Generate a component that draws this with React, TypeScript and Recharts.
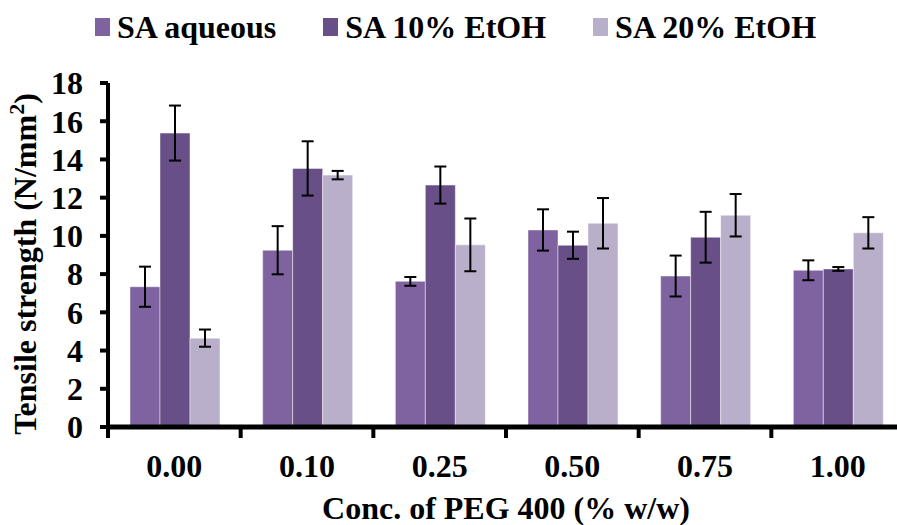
import { BarChart, Bar, XAxis, YAxis, Legend, ErrorBar } from "recharts";

const categories = ["0.00", "0.10", "0.25", "0.50", "0.75", "1.00"];
const aqueous = [7.34, 9.25, 7.62, 10.31, 7.9, 8.2];
const aqueousErr = [1.05, 1.26, 0.23, 1.08, 1.07, 0.52];
const etoh10 = [15.38, 13.53, 12.66, 9.51, 9.93, 8.27];
const etoh10Err = [1.44, 1.42, 0.97, 0.71, 1.33, 0.1];
const etoh20 = [4.65, 13.18, 9.53, 10.66, 11.08, 10.16];
const etoh20Err = [0.45, 0.22, 1.38, 1.32, 1.11, 0.82];
const yTicks = [0, 2, 4, 6, 8, 10, 12, 14, 16, 18];

const series = [
  { key: "aq", err: "aqErr", name: "SA aqueous", color: "#7F63A1" },
  { key: "e10", err: "e10Err", name: "SA 10% EtOH", color: "#684F88" },
  { key: "e20", err: "e20Err", name: "SA 20% EtOH", color: "#BAAFCA" },
];

const data = categories.map((c, i) => ({
  conc: c,
  aq: aqueous[i],
  aqErr: aqueousErr[i],
  e10: etoh10[i],
  e10Err: etoh10Err[i],
  e20: etoh20[i],
  e20Err: etoh20Err[i],
}));

const FONT = "'Liberation Serif', 'Times New Roman', serif";
const FS = 32;
const CHART_W = 904;
const CHART_H = 525;
const LEFT = 108;
const BAND = (CHART_W - LEFT) / categories.length;

const XTick = (props: any) => {
  const { x, y, payload } = props;
  const left = x - BAND / 2;
  return (
    <g>
      <line x1={left} y1={y} x2={left} y2={y + 11} stroke="#000" strokeWidth={4} />
      <text
        x={x}
        y={y + 50}
        textAnchor="middle"
        fontFamily={FONT}
        fontWeight={700}
        fontSize={FS}
        fill="#000"
      >
        {payload.value}
      </text>
    </g>
  );
};

const YTitle = (props: any) => {
  const vb = props.viewBox || {};
  const cx = 36;
  const cy = (vb.y ?? 83) + (vb.height ?? 344) / 2 + 9;
  return (
    <text
      x={cx}
      y={cy}
      transform={`rotate(-90, ${cx}, ${cy})`}
      textAnchor="middle"
      fontFamily={FONT}
      fontWeight={700}
      fontSize={FS}
      fill="#000"
    >
      Tensile strength (N/mm
      <tspan dy={-12} fontSize={22}>
        2
      </tspan>
      <tspan dy={12}>)</tspan>
    </text>
  );
};

const LegendContent = () => (
  <div
    style={{
      display: "flex",
      alignItems: "center",
      paddingLeft: 95,
      gap: 47,
      fontFamily: FONT,
      fontWeight: 700,
      fontSize: FS,
      lineHeight: "36px",
      color: "#000",
    }}
  >
    {series.map((s) => (
      <div key={s.key} style={{ display: "flex", alignItems: "center" }}>
        <span
          style={{
            display: "inline-block",
            width: 15,
            height: 18,
            background: s.color,
            marginRight: 7,
          }}
        />
        <span>{s.name}</span>
      </div>
    ))}
  </div>
);

export default function App() {
  return (
    <div
      style={{
        position: "absolute",
        left: 0,
        top: 0,
        width: 897,
        height: 525,
        overflow: "hidden",
        background: "#fff",
      }}
    >
      <BarChart
        width={CHART_W}
        height={CHART_H}
        data={data}
        margin={{ top: 83, right: 0, bottom: 0, left: 0 }}
        barCategoryGap={22}
        barGap={0}
      >
        <Legend
          verticalAlign="middle"
          content={<LegendContent />}
          wrapperStyle={{ top: 9, left: 0, width: 897 }}
        />
        <XAxis
          dataKey="conc"
          height={98}
          axisLine={{ stroke: "#000", strokeWidth: 5 }}
          tickLine={false}
          tickSize={0}
          tickMargin={0}
          tick={<XTick />}
          interval={0}
          label={{
            value: "Conc. of PEG 400 (% w/w)",
            position: "insideBottom",
            offset: 6,
            fontFamily: FONT,
            fontWeight: 700,
            fontSize: FS,
            fill: "#000",
          }}
        />
        <YAxis
          width={LEFT}
          domain={[0, 18]}
          ticks={yTicks}
          interval={0}
          axisLine={{ stroke: "#000", strokeWidth: 4 }}
          tickLine={{ stroke: "#000", strokeWidth: 4 }}
          tickSize={8}
          tickMargin={17}
          tick={{ fontFamily: FONT, fontWeight: 700, fontSize: FS, fill: "#000" }}
          label={<YTitle />}
        />
        {series.map((s) => (
          <Bar
            key={s.key}
            dataKey={s.key}
            name={s.name}
            fill={s.color}
            stroke="rgba(255,255,255,0.45)"
            strokeWidth={1}
            isAnimationActive={false}
          >
            <ErrorBar dataKey={s.err} width={6} stroke="#000" strokeWidth={2} direction="y" />
          </Bar>
        ))}
      </BarChart>
    </div>
  );
}
